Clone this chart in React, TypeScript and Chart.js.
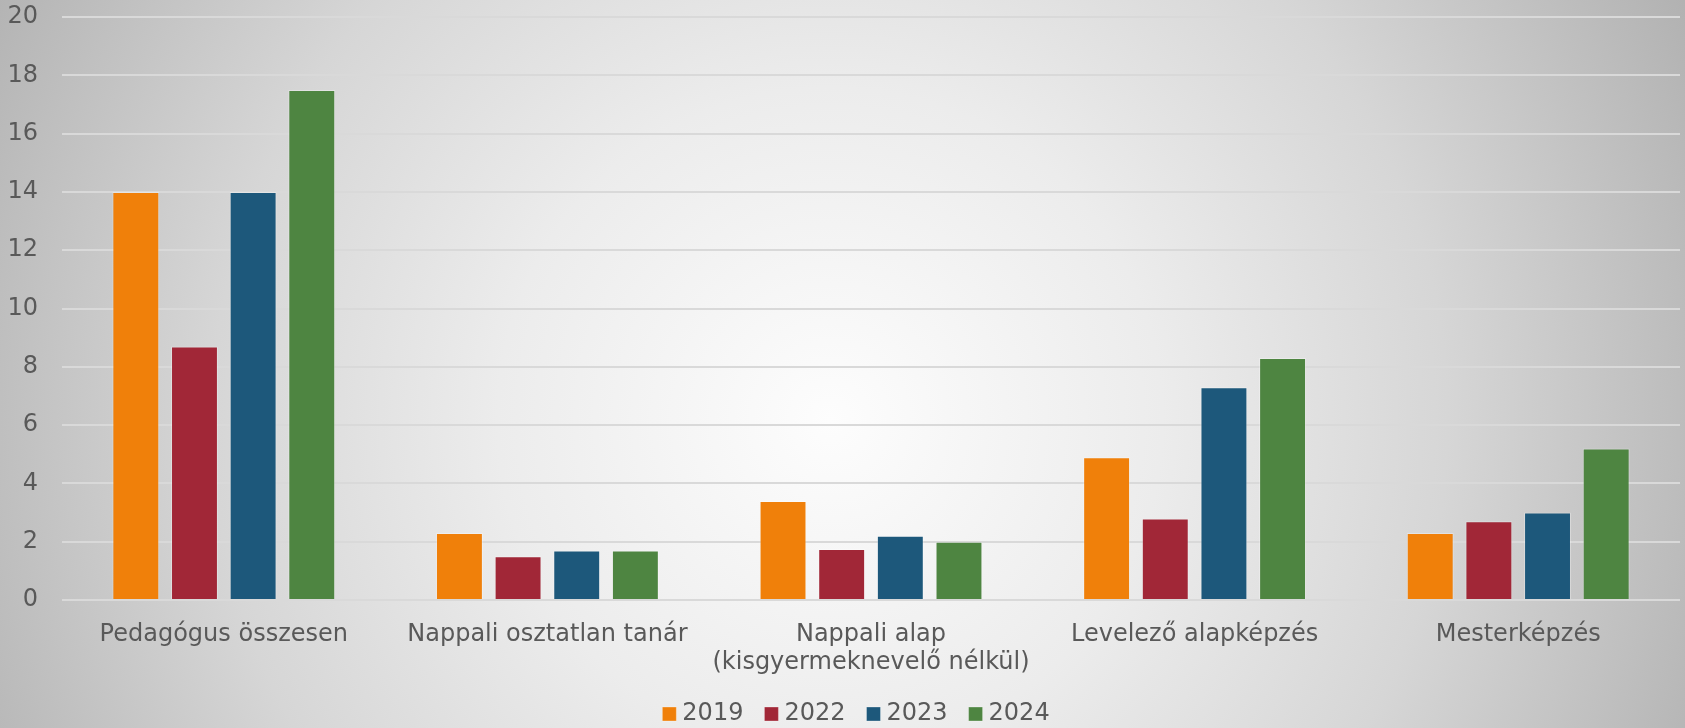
import React, { useEffect, useRef } from "react";
import { Chart, registerables } from "chart.js";

Chart.register(...registerables);

const categories: (string | string[])[] = [
  "Pedagógus összesen",
  "Nappali osztatlan tanár",
  ["Nappali alap", "(kisgyermeknevelő nélkül)"],
  "Levelező alapképzés",
  "Mesterképzés",
];
const seriesNames = ["2019", "2022", "2023", "2024"];
const values2019 = [14.0, 2.3, 3.4, 4.9, 2.3];
const values2022 = [8.7, 1.5, 1.75, 2.8, 2.7];
const values2023 = [14.0, 1.7, 2.2, 7.3, 3.0];
const values2024 = [17.5, 1.7, 2.0, 8.3, 5.2];
const seriesColors = ["#F0800A", "#A12737", "#1D587B", "#4E8541"];
const yMin = 0;
const yMax = 20;
const yStep = 2;

const FONT = "'DejaVu Sans', Verdana, sans-serif";
const TEXT = "#595959";
const FONT_SIZE = 24;
const LEGEND_SHIFT = 19;

const layoutTweak = {
  id: "layoutTweak",
  afterLayout(chart: any) {
    const lg = chart.legend;
    if (lg) {
      lg.left += LEGEND_SHIFT;
      lg.right += LEGEND_SHIFT;
    }
    const x = chart.scales.x;
    if (x) x.bottom = chart.height;
  },
};

export default function App() {
  const ref = useRef<HTMLCanvasElement | null>(null);

  useEffect(() => {
    document.body.style.margin = "0";
    const canvas = ref.current;
    if (!canvas) return;
    const allValues = [values2019, values2022, values2023, values2024];
    const chart = new Chart(canvas, {
      type: "bar",
      data: {
        labels: categories,
        datasets: seriesNames.map((name, i) => ({
          label: name,
          data: allValues[i],
          backgroundColor: seriesColors[i],
          borderColor: "rgba(255,255,255,0.3)",
          borderWidth: 1,
          categoryPercentage: 0.725,
          barPercentage: 0.8,
        })),
      },
      options: {
        responsive: false,
        animation: false,
        devicePixelRatio: 1,
        layout: { padding: { left: 0, right: 5, top: 17, bottom: -8 } },
        scales: {
          x: {
            grid: { display: false, drawTicks: false },
            border: { display: false },
            ticks: {
              color: TEXT,
              font: { family: FONT, size: FONT_SIZE, lineHeight: 1.19 },
              padding: 20,
              maxRotation: 0,
              autoSkip: false,
            },
            afterFit: (s: any) => {
              s.height = 75;
            },
          },
          y: {
            min: yMin,
            max: yMax,
            ticks: {
              stepSize: yStep,
              color: TEXT,
              font: { family: FONT, size: FONT_SIZE },
              padding: 24,
            },
            grid: { color: "#d9d9d9", lineWidth: 2, drawTicks: false },
            border: { display: false },
            afterFit: (s: any) => {
              s.width = 62;
              s.paddingTop = 0;
              s.paddingBottom = 0;
            },
          },
        },
        plugins: {
          legend: {
            position: "bottom",
            labels: {
              usePointStyle: true,
              pointStyle: "rect",
              boxWidth: 2,
              boxHeight: 14,
              padding: 27,
              color: TEXT,
              font: { family: FONT, size: FONT_SIZE },
            },
          },
          tooltip: { enabled: false },
        },
      },
      plugins: [layoutTweak],
    });
    return () => chart.destroy();
  }, []);

  return (
    <div
      style={{
        position: "absolute",
        left: 0,
        top: 0,
        width: 1685,
        height: 728,
        background:
          "radial-gradient(circle 950px at 830px 420px, #fdfdfd 0%, #ececec 35%, #d6d6d6 65%, #b2b2b2 100%)",
      }}
    >
      <canvas ref={ref} width={1685} height={728} style={{ display: "block" }} />
    </div>
  );
}
